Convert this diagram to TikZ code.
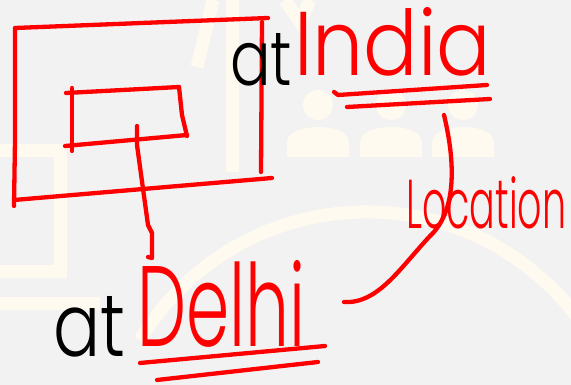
\documentclass[tikz,border=0pt]{standalone}
\usepackage{fontspec}
\IfFontExistsTF{Poppins Light}{\setmainfont{Poppins Light}}{\setmainfont{Poppins}}
\usepackage{tikz}
\usetikzlibrary{arrows.meta, positioning}

\definecolor{penred}{RGB}{255,0,0}
\definecolor{paper}{RGB}{242,242,242}
\definecolor{cream}{RGB}{255,250,239}

\tikzset{
    ink/.style={penred, line width=4.3pt, line cap=round, line join=round},
    wmark/.style={cream, line width=13pt},
    redword/.style={penred, inner sep=0pt},
    blackword/.style={black, inner sep=0pt}
}

\begin{document}
\begin{tikzpicture}[x=1pt, y=-1pt]

% 背景
\fill[paper] (0,0) rectangle (571,385);
\useasboundingbox (0,0) rectangle (571,385);

% 水印
\begin{scope}
    \draw[wmark] (197,67) -- (213,0);
    \draw[wmark] (232,0) -- (232,172);
    \draw[wmark] (285,0) -- (300,22) -- (310,0);
    \draw[wmark] (-10,151) -- (60,151) -- (60,272) -- (-10,272);
    \draw[wmark] (-10,303) -- (100,303);
    \draw[wmark] (140,340) arc[start angle=211, end angle=338, radius=264];
    \foreach \cx in {318,391,463} {
        \fill[cream] (\cx,105) circle (15);
        \fill[cream] (\cx-31,157) -- (\cx-31,143) .. controls (\cx-31,130) and (\cx-12,127) .. (\cx,127)
            .. controls (\cx+12,127) and (\cx+31,130) .. (\cx+31,143) -- (\cx+31,157) -- cycle;
    }
\end{scope}

% 外框
\draw[ink] (15,28) -- (268,18);
\draw[ink] (15,28) -- (15,140) -- (14,206);
\draw[ink] (262,22) -- (261,172);
\draw[ink] (14,200) -- (272,178);

% 内框
\draw[ink] (72,88) -- (72,151);
\draw[ink] (66,93) -- (179,87);
\draw[ink] (179,87) -- (182,115) -- (187,136);
\draw[ink] (65,146) -- (187,135);

% 文字
\node[blackword, anchor=base west] (atIndia) at (230,86) {\resizebox{62pt}{52pt}{at}};
\node[redword, anchor=base west] (india) at (294,76) {\resizebox{197pt}{68pt}{India}};
\node[redword, anchor=base west] (location) at (406,229) {\resizebox{160pt}{52pt}{Location}};
\node[blackword, anchor=base west] (atDelhi) at (53,356) {\resizebox{72pt}{60pt}{at}};
\node[redword, anchor=base west] (delhi) at (137,346) {\resizebox{168pt}{86pt}{Delhi}};

% 竖线
\coordinate (stemTop) at (137,126);
\coordinate (stemEnd) at (148,257);
\draw[ink] (stemTop) -- (137,145) -- (148,225) -- (152,233) -- (152,258) -- (stemEnd);

% 下划线
\draw[ink] (334,92) -- (338,95) -- (487,85);
\draw[ink] (347,107) -- (490,99);
\draw[ink] (140,363) -- (325,346);
\draw[ink] (157,380) -- (318,362);

% 曲线
\coordinate (curveTop) at (444,115);
\coordinate (curveEnd) at (344,302);
\draw[ink] (curveTop) .. controls (456,165) and (456,212) .. (430,236)
    .. controls (400,268) and (378,304) .. (curveEnd);

\end{tikzpicture}
\end{document}
